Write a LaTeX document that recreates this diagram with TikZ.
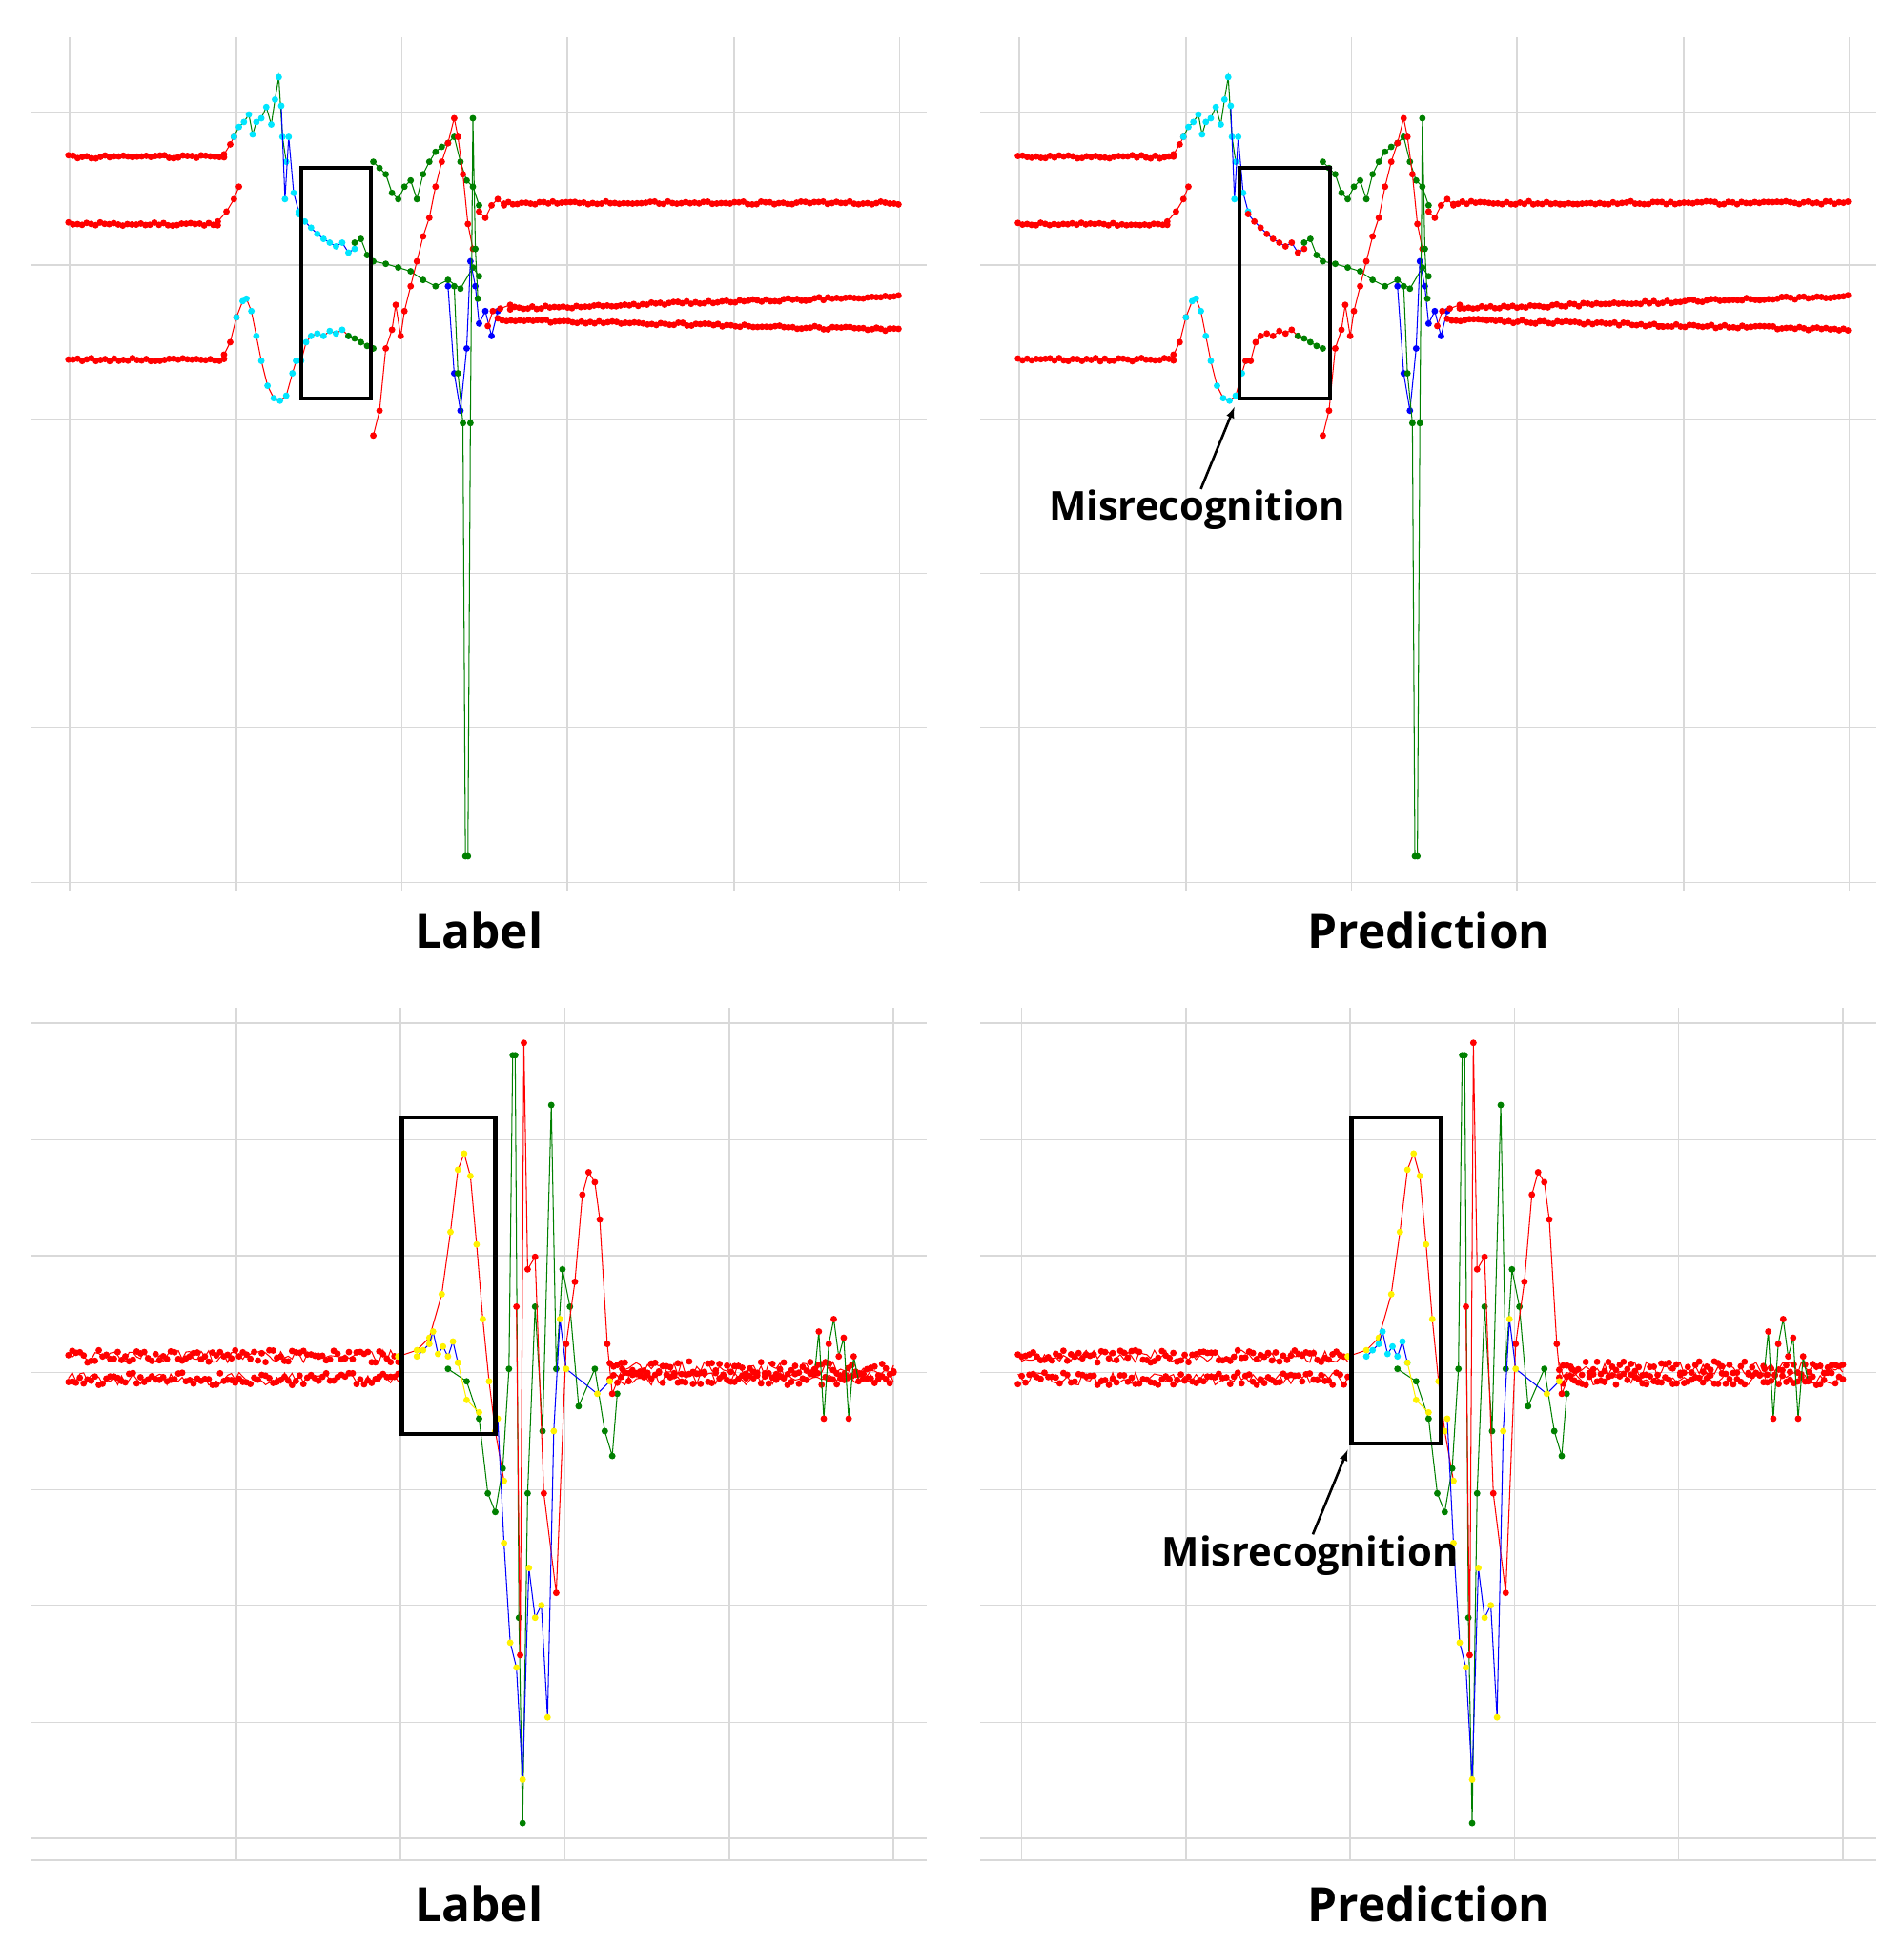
\documentclass[tikz,border=0pt]{standalone}
\usepackage{fontspec}
\setmainfont{Open Sans}
\definecolor{cy}{RGB}{0,230,255}
\begin{document}
\begin{tikzpicture}[x=1pt,y=-1pt,
  grid/.style={black!15,line width=1.2pt},
  ln/.style={line width=0.8pt},
  mk/.style={mark=*,mark size=2.2pt},
  box/.style={draw=black,line width=3.2pt},
  lab/.style={font=\bfseries\fontsize{38}{40}\selectfont},
  mis/.style={font=\bfseries\fontsize{32}{34}\selectfont},
  arr/.style={-latex,line width=2pt}]
\pgfmathsetseed{7}
\useasboundingbox (0,0) rectangle (1530,1563);
\newcommand\flt[5]{\draw[#5,ln,mk,mark options={fill=#5,draw=#5}] plot[domain=#1:#2,samples={int((#2-#1)/3.5)}] (\x,{#3+(#4-#3)*(\x-#1)/(#2-#1)+1.3*rand});}
\newcommand\nz[4]{\draw[red,ln,mk,mark options={fill=red,draw=red}] plot[domain=#1:#2,samples={int((#2-#1)/3)}] (\x,{#3+#4*rand});}
\newcommand\crv[3]{\draw[#1,ln,mk,mark options={fill=#2,draw=#2}] plot coordinates {#3};}
\newcommand\gridtop{%
  \foreach \x in {56,190,323,456,590,723} \draw[grid] (\x,30) -- (\x,716);
  \foreach \y in {90,213,337,461,585,709,716} \draw[grid] (25,\y) -- (745,\y);}
\newcommand\gridbot{%
  \foreach \x in {58,190,322,454,586,718} \draw[grid] (\x,810) -- (\x,1495);
  \foreach \y in {822,916,1009,1103,1197,1290,1384,1477,1495} \draw[grid] (25,\y) -- (745,\y);}
\newcommand\topdata[1]{%
  \flt{55}{180}{126}{126}{red}
  \crv{red}{red}{(180,124)(185,116)(188,110)}
  \crv{green!50!black}{cy}{(188,110)(192,102)(196,98)(200,92)(203,108)(206,98)(210,95)(214,86)(218,100)(221,80)(224,62)(227,110)(230,130)}
  \crv{blue}{cy}{(226,85)(229,160)(232,110)(236,155)(240,170)}
  \flt{55}{175}{180}{180}{red}
  \crv{red}{red}{(175,178)(182,170)(188,160)(192,150)}
  \crv{blue}{#1}{(240,172)(245,178)(250,183)(255,188)(260,192)(265,195)(270,198)(275,195)(280,203)(285,200)}
  \crv{green!50!black}{green!50!black}{(285,195)(290,192)(295,205)(300,210)(310,212)(320,215)(330,218)(340,225)(350,230)(360,225)(370,232)(380,215)(385,222)}
  \crv{green!50!black}{green!50!black}{(300,130)(305,135)(310,140)(315,155)(320,160)(325,150)(330,145)(335,160)(340,140)(345,130)(350,122)(355,118)(360,115)(365,110)(370,130)(375,145)(380,150)(385,165)}
  \crv{red}{red}{(300,350)(305,330)(310,280)(315,265)(318,245)(322,270)(325,250)(330,230)(335,210)(340,190)(345,175)(350,150)(355,130)(360,115)(365,95)(368,110)(372,140)(376,180)(380,200)}
  \crv{blue}{blue}{(360,230)(365,300)(370,330)(375,280)(378,210)(382,230)(385,260)(390,250)(395,270)(400,250)}
  \crv{green!50!black}{green!50!black}{(365,230)(368,300)(372,340)(374,688)(376,688)(378,340)(380,95)(382,200)(384,240)}
  \crv{red}{red}{(385,170)(390,175)(395,165)(400,160)(405,165)}
  \flt{405}{722}{163}{163}{red}
  \crv{red}{red}{(392,262)(396,250)(402,248)(410,245)}
  \flt{410}{722}{248}{238}{red}
  \flt{400}{722}{257}{265}{red}
  \flt{55}{180}{289}{289}{red}
  \crv{red}{red}{(180,285)(185,275)(190,255)}
  \crv{red}{cy}{(190,255)(195,242)(198,240)(202,250)(206,270)(210,290)(215,310)(220,320)(225,322)(230,318)(235,300)(238,290)}
  \crv{red}{#1}{(238,290)(242,290)(246,275)(250,270)(255,268)(260,270)(265,266)(270,268)(275,265)(280,270)}
  \crv{green!50!black}{green!50!black}{(280,270)(285,272)(290,275)(295,278)(300,280)}
}
\newcommand\botdata[1]{%
  \nz{55}{320}{1090}{5}
  \nz{55}{320}{1108}{5}
  \nz{490}{718}{1100}{6}
  \nz{490}{718}{1108}{5}
  \crv{green!50!black}{red}{(655,1100)(658,1070)(662,1140)(666,1080)(670,1060)(674,1090)(678,1075)(682,1140)(686,1090)(690,1110)}
  \crv{red}{yellow}{(320,1090)(335,1085)(345,1075)(355,1040)(362,990)(368,940)(373,927)(378,945)(383,1000)(388,1060)(393,1110)(398,1150)(405,1190)}
  \crv{green!50!black}{green!50!black}{(360,1100)(375,1110)(385,1140)(392,1200)(398,1215)(404,1180)(409,1100)(412,848)(414,848)(417,1300)(420,1465)(424,1200)(430,1050)(436,1150)(443,888)(447,1100)(452,1020)(458,1050)(465,1130)(478,1100)(486,1150)(492,1170)(496,1120)}
  \crv{red}{red}{(415,1050)(418,1330)(421,838)(424,1020)(430,1010)(437,1200)(447,1280)(455,1080)(462,1030)(468,960)(473,942)(478,950)(482,980)(488,1080)(492,1120)(500,1100)}
  \crv{blue}{yellow}{(400,1140)(405,1240)(410,1320)(415,1340)(420,1430)(425,1260)(430,1300)(435,1290)(440,1380)(445,1150)(450,1060)(455,1100)(480,1120)(490,1110)}
  \crv{blue}{#1}{(335,1090)(340,1085)(345,1080)(348,1070)(352,1088)(356,1082)(360,1090)(364,1078)(368,1095)}
  \crv{yellow}{yellow}{(368,1095)(375,1125)(385,1135)}
}
% top-left
\gridtop
\topdata{cy}
\node[box,minimum width=56pt,minimum height=185pt,inner sep=0pt] (b1) at (270,227.5) {};
\node[lab] (l1) at (385,748) {Label};
% top-right
\begin{scope}[xshift=763pt]
\gridtop
\topdata{red}
\node[box,minimum width=73pt,minimum height=185pt,inner sep=0pt] (b2) at (269.5,227.5) {};
\node[lab] (l2) at (385,748) {Prediction};
\node[mis] (m1) at (199,410) {Misrecognition};
\coordinate (a1) at (229,327);
\draw[arr] (202,393) -- (a1);
\end{scope}
% bottom-left
\gridbot
\botdata{yellow}
\node[box,minimum width=75pt,minimum height=254pt,inner sep=0pt] (b3) at (360.5,1025) {};
\node[lab] (l3) at (385,1530) {Label};
% bottom-right
\begin{scope}[xshift=763pt]
\gridbot
\botdata{cy}
\node[box,minimum width=72pt,minimum height=262pt,inner sep=0pt] (b4) at (359,1029) {};
\node[lab] (l4) at (385,1530) {Prediction};
\node[mis] (m2) at (290,1250) {Misrecognition};
\coordinate (a2) at (320,1165);
\draw[arr] (292,1233) -- (a2);
\end{scope}
\end{tikzpicture}
\end{document}
